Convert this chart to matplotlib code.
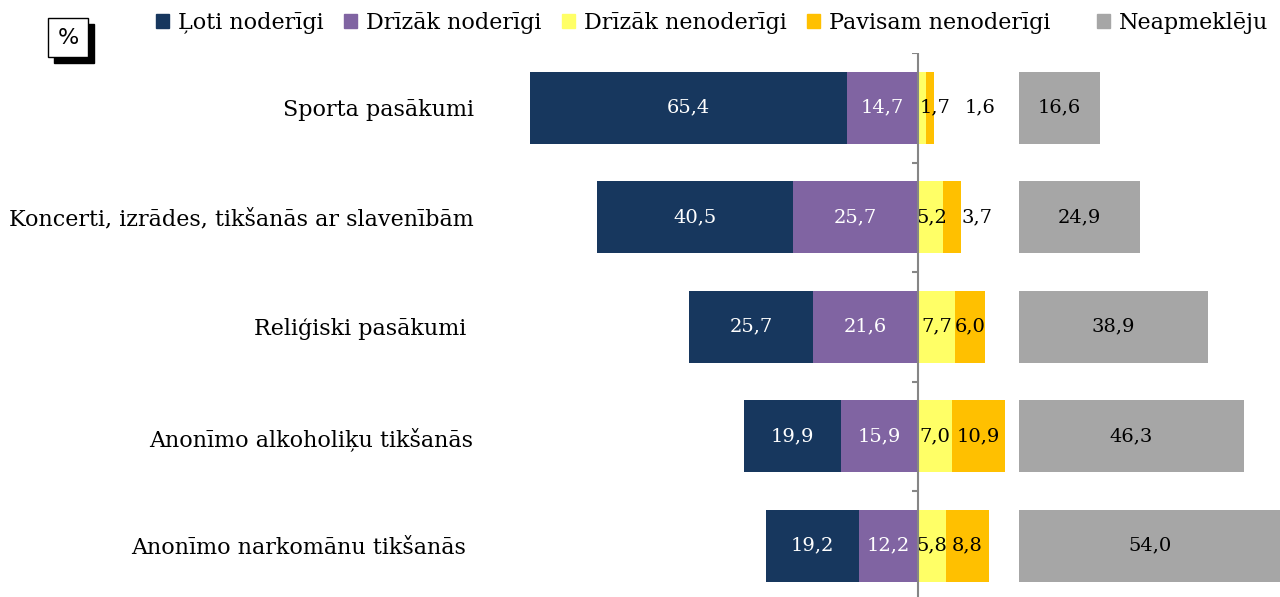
import numpy as np
import matplotlib.pyplot as plt
from matplotlib.patches import Rectangle, Patch

# dati
categories = ['Sporta pasākumi', 'Koncerti, izrādes, tikšanās ar slavenībām',
              'Reliģiski pasākumi ', 'Anonīmo alkoholiķu tikšanās',
              'Anonīmo narkomānu tikšanās ']
loti_noderigi = [65.4, 40.5, 25.7, 19.9, 19.2]
drizak_noderigi = [14.7, 25.7, 21.6, 15.9, 12.2]
drizak_nenoderigi = [1.7, 5.2, 7.7, 7.0, 5.8]
pavisam_nenoderigi = [1.6, 3.7, 6.0, 10.9, 8.8]
neapmekleju = [16.6, 24.9, 38.9, 46.3, 54.0]
legend_labels = ['Ļoti noderīgi', 'Drīzāk noderīgi', 'Drīzāk nenoderīgi',
                 'Pavisam nenoderīgi', 'Neapmeklēju']

colors = ['#17375E', '#8064A2', '#FFFF66', '#FFC000', '#A6A6A6']
GRAY_OFFSET = 20.8   # kur sākas pelēkā josla
FONT = 'DejaVu Serif'
FS = 16      # asu un leģendas teksts
VFS = 14     # vērtību etiķetes

plt.rcParams['font.family'] = [FONT, 'DejaVu Sans']

fig = plt.figure(figsize=(12.8, 5.97), dpi=100)
ax = fig.add_axes([0.3797, -0.0059, 0.6203, 0.9171])

y = np.arange(len(categories))
h = 0.66

ln = np.array(loti_noderigi)
dn = np.array(drizak_noderigi)
dnn = np.array(drizak_nenoderigi)
pn = np.array(pavisam_nenoderigi)
ne = np.array(neapmekleju)

ax.barh(y, -dn, height=h, color=colors[1])
ax.barh(y, -ln, left=-dn, height=h, color=colors[0])
ax.barh(y, dnn, height=h, color=colors[2])
ax.barh(y, pn, left=dnn, height=h, color=colors[3])
ax.barh(y, ne, left=GRAY_OFFSET, height=h, color=colors[4])

def fmt(v):
    return f'{v:.1f}'.replace('.', ',')

# mazās vērtības pabīdītas, lai nepārklātos
label_shift = {0: (3.5, 12.8), 1: (2.9, 12.2)}

for i in range(len(categories)):
    ax.text(-dn[i] - ln[i] / 2, i, fmt(ln[i]), color='white', ha='center', va='center', fontsize=VFS)
    ax.text(-dn[i] / 2, i, fmt(dn[i]), color='white', ha='center', va='center', fontsize=VFS)
    x1, x2 = label_shift.get(i, (dnn[i] / 2, dnn[i] + pn[i] / 2))
    ax.text(x1, i, fmt(dnn[i]), color='black', ha='center', va='center', fontsize=VFS)
    ax.text(x2, i, fmt(pn[i]), color='black', ha='center', va='center', fontsize=VFS)
    ax.text(GRAY_OFFSET + ne[i] / 2, i, fmt(ne[i]), color='black', ha='center', va='center', fontsize=VFS)

# centrālā ass ar iedaļām
ax.axvline(0, color='#868686', lw=1.5, zorder=5)
ax.hlines(np.arange(len(categories)) - 0.5, -1.3, 0, color='#868686', lw=1.5, zorder=5)

ax.set_xlim(-89.07, 74.6)
ax.set_ylim(len(categories) - 0.5, -0.5)
ax.set_yticks(y)
ax.set_yticklabels(categories, fontsize=FS)
ax.tick_params(axis='y', length=0, pad=9)
ax.set_xticks([])
for s in ax.spines.values():
    s.set_visible(False)

# leģenda
handles = [Patch(color=c) for c in colors]
leg1 = fig.legend(handles[:4], legend_labels[:4], ncol=4, loc='center left',
                  bbox_to_anchor=(0.122, 0.962), frameon=False, fontsize=FS,
                  handlelength=0.6, handleheight=0.6, handletextpad=0.4, columnspacing=0.9,
                  borderaxespad=0, borderpad=0)
leg2 = fig.legend(handles[4:], legend_labels[4:], loc='center left',
                  bbox_to_anchor=(0.857, 0.962), frameon=False, fontsize=FS,
                  handlelength=0.6, handleheight=0.6, handletextpad=0.4,
                  borderaxespad=0, borderpad=0)

# "%" lodziņš ar ēnu
fig.patches.append(Rectangle((54 / 1280, 1 - 63 / 597), 40 / 1280, 39 / 597,
                             transform=fig.transFigure, facecolor='black', edgecolor='black'))
fig.patches.append(Rectangle((48 / 1280, 1 - 57 / 597), 40 / 1280, 39 / 597,
                             transform=fig.transFigure, facecolor='white', edgecolor='black', lw=1))
fig.text(68 / 1280, 1 - 38 / 597, '%', ha='center', va='center', fontsize=FS,
         family=['DejaVu Sans'])

fig.savefig('out.png', dpi=100)
